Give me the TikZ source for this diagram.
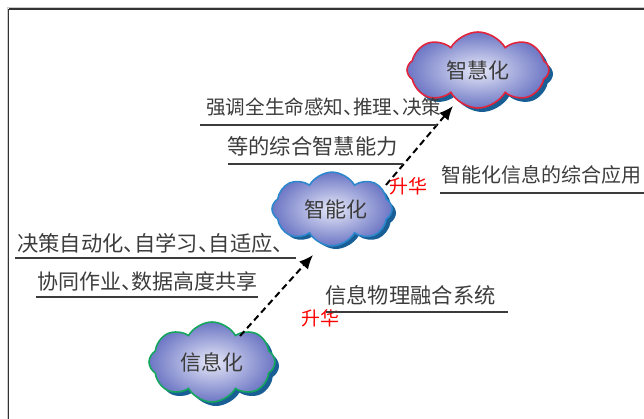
\documentclass[tikz,border=0pt]{standalone}
\usepackage{fontspec}
\newfontfamily\cjk{Noto Sans CJK SC}
\usetikzlibrary{shapes.symbols,arrows.meta}
\definecolor{txtgray}{RGB}{60,60,60}
\definecolor{cloudout}{RGB}{108,118,196}
\definecolor{cloudin}{RGB}{230,232,248}
\definecolor{shadowc}{RGB}{25,95,150}
\definecolor{redline}{RGB}{225,35,60}
\definecolor{blueline}{RGB}{45,135,205}
\definecolor{greenline}{RGB}{20,165,95}
\newcommand{\dun}{、\kern-0.5em}
\tikzset{
  cloudshape/.style={cloud, cloud puffs=8, cloud puff arc=120, aspect=1.8, inner sep=0pt},
  cloudshadow/.style={cloudshape, fill=shadowc, draw=none},
  cloudbody/.style={cloudshape, inner color=cloudin, outer color=cloudout, line width=1.6pt, font=\cjk\fontsize{21}{24}\selectfont, text=txtgray},
  lbl/.style={font=\cjk\fontsize{21.3}{24}\selectfont, text=txtgray, inner sep=0pt},
  sheng/.style={font=\cjk\fontsize{19}{21}\selectfont, text=red, inner sep=0pt},
  uline/.style={draw=txtgray, line width=1.1pt},
  darrow/.style={draw=black, line width=2pt, dash pattern=on 6.5pt off 4pt, -{Latex[length=14pt,width=12pt]}},
}
\begin{document}
\begin{tikzpicture}[x=1pt,y=-1pt]
\useasboundingbox (0,0) rectangle (644,419);
% frame
\draw[gray!40, line width=1pt] (7,7.5) -- (644,7.5);
\draw[gray!40, line width=1pt] (7,7.5) -- (7,419);
\draw[black!80, line width=1.5pt] (8.5,9) -- (644,9);
\draw[black!80, line width=1.5pt] (8.5,9) -- (8.5,419);

% clouds
\node[cloudshadow, minimum width=142pt, minimum height=76pt] (s3) at (482,74) {};
\node[cloudbody, draw=redline, minimum width=142pt, minimum height=76pt] (c3) at (478,70) {智慧化};

\node[cloudshadow, minimum width=120pt, minimum height=72pt] (s2) at (336,213) {};
\node[cloudbody, draw=blueline, minimum width=120pt, minimum height=72pt] (c2) at (332,209) {\hspace*{8pt}智能化};

\node[cloudshadow, minimum width=126pt, minimum height=80pt] (s1) at (216,366) {};
\node[cloudbody, draw=greenline, minimum width=126pt, minimum height=80pt] (c1) at (212,362) {信息化};

% arrows
\coordinate (a1s) at (240,336);
\coordinate (a1e) at (313,255);
\coordinate (a2s) at (386,185);
\coordinate (a2e) at (453,106);
\draw[darrow] (a1s) -- (a1e);
\draw[darrow] (a2s) -- (a2e);

% labels
\node[lbl, anchor=west, font=\cjk\fontsize{19.6}{22}\selectfont] (t1) at (206,107) {强调全生命感知\dun 推理\dun 决策};
\coordinate (u1a) at (200,125); \coordinate (u1b) at (437,125);
\draw[uline] (u1a) -- (u1b);

\node[lbl, anchor=west] (t2) at (227,146) {等的综合智慧能力};
\coordinate (u2a) at (228,164); \coordinate (u2b) at (403,164);
\draw[uline] (u2a) -- (u2b);

\node[sheng] (sh2) at (408,186) {升华};

\node[lbl, anchor=west, font=\cjk\fontsize{20}{22}\selectfont] (t3) at (441,175) {智能化信息的综合应用};
\coordinate (u3a) at (440,193); \coordinate (u3b) at (644,193);
\draw[uline] (u3a) -- (u3b);

\node[lbl, anchor=west] (t4) at (17,243) {决策自动化\dun 自学习\dun 自适应\dun};
\coordinate (u4a) at (15,258); \coordinate (u4b) at (296,258);
\draw[uline] (u4a) -- (u4b);

\node[lbl, anchor=west, font=\cjk\fontsize{21}{24}\selectfont] (t5) at (37,281) {协同作业\dun 数据高度共享};
\coordinate (u5a) at (36,297); \coordinate (u5b) at (258,297);
\draw[uline] (u5a) -- (u5b);

\node[sheng] (sh1) at (320,318) {升华};

\node[lbl, anchor=west] (t6) at (325,295) {信息物理融合系统};
\coordinate (u6a) at (326,312); \coordinate (u6b) at (508,312);
\draw[uline] (u6a) -- (u6b);
\end{tikzpicture}
\end{document}
